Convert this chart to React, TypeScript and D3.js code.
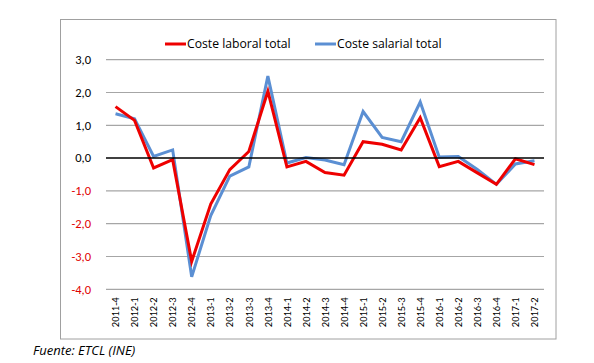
import * as d3 from "d3";

const width = 594;
const height = 363;
const plotLeft = 106;
const plotRight = 544;
const plotTop = 59.7;
const plotBottom = 289.3;

const periods = [
  "2011-4", "2012-1", "2012-2", "2012-3", "2012-4", "2013-1", "2013-2", "2013-3", "2013-4",
  "2014-1", "2014-2", "2014-3", "2014-4", "2015-1", "2015-2", "2015-3", "2015-4",
  "2016-1", "2016-2", "2016-3", "2016-4", "2017-1", "2017-2",
];
const laboral = [
  1.57, 1.15, -0.3, -0.05, -3.15, -1.4, -0.35, 0.2, 2.04,
  -0.27, -0.1, -0.44, -0.52, 0.5, 0.42, 0.25, 1.23,
  -0.26, -0.1, -0.45, -0.8, -0.02, -0.2,
];
const salarial = [
  1.35, 1.2, 0.05, 0.25, -3.62, -1.75, -0.55, -0.27, 2.5,
  -0.15, 0.02, -0.06, -0.2, 1.42, 0.63, 0.5, 1.71,
  0.03, 0.05, -0.35, -0.8, -0.18, -0.08,
];
const yTicks = [3, 2, 1, 0, -1, -2, -3, -4];

const RED = "#ee0000";
const BLUE = "#5b8fd3";
const font = "Calibri, Carlito, 'Open Sans', sans-serif";
const wideFont = "'Open Sans', sans-serif";

const App = () => {
  const x = d3.scaleBand(periods, [plotLeft, plotRight]);
  const y = d3.scaleLinear([-4, 3], [plotBottom, plotTop]);
  const cx = (i: number) => (x(periods[i]) as number) + x.bandwidth() / 2;
  const line = d3.line<number>((d, i) => cx(i), (d) => y(d));
  const fmt = (v: number) => v.toFixed(1).replace(".", ",");

  return (
    <svg width={width} height={height} style={{ position: "absolute", left: 0, top: 0 }}>
      <rect x={0} y={0} width={width} height={height} fill="white" />
      <rect x={60.5} y={19.5} width={495.5} height={319.5} fill="white" stroke="#a0a0a0" strokeWidth={1} />
      {yTicks.map((t) => (
        <g key={t}>
          {t !== 0 && (
            <line x1={plotLeft} x2={plotRight} y1={y(t)} y2={y(t)} stroke="#a6a6a6" strokeWidth={1.2} />
          )}
          <text
            x={91}
            y={y(t)}
            dy="0.35em"
            textAnchor="end"
            fontFamily={font}
            fontSize={12.5}
            fill={t < 0 ? "#e00000" : "#000"}
          >
            {fmt(t)}
          </text>
        </g>
      ))}
      {periods.map((p) => (
        <text
          key={p}
          transform={`translate(${(x(p) as number) + x.bandwidth() / 2},${plotBottom + 8}) rotate(-90)`}
          textAnchor="end"
          dy="0.35em"
          fontFamily={font}
          fontSize={10.5}
          fill="#000"
        >
          {p}
        </text>
      ))}
      <path d={line(salarial) as string} fill="none" stroke={BLUE} strokeWidth={3} strokeLinejoin="miter" />
      <path d={line(laboral) as string} fill="none" stroke={RED} strokeWidth={3} strokeLinejoin="miter" />
      <line x1={plotLeft} x2={plotRight} y1={y(0)} y2={y(0)} stroke="#000" strokeWidth={1.5} />
      <g fontFamily={wideFont} fontSize={12.2}>
        <line x1={165} x2={186} y1={44} y2={44} stroke={RED} strokeWidth={3} />
        <text x={187} y={44} dy="0.35em">Coste laboral total</text>
        <line x1={315} x2={336} y1={44} y2={44} stroke={BLUE} strokeWidth={3} />
        <text x={337} y={44} dy="0.35em">Coste salarial total</text>
      </g>
      <text x={33} y={355} fontFamily={wideFont} fontSize={13} fontStyle="italic">
        Fuente: ETCL (INE)
      </text>
    </svg>
  );
};

export default App;
